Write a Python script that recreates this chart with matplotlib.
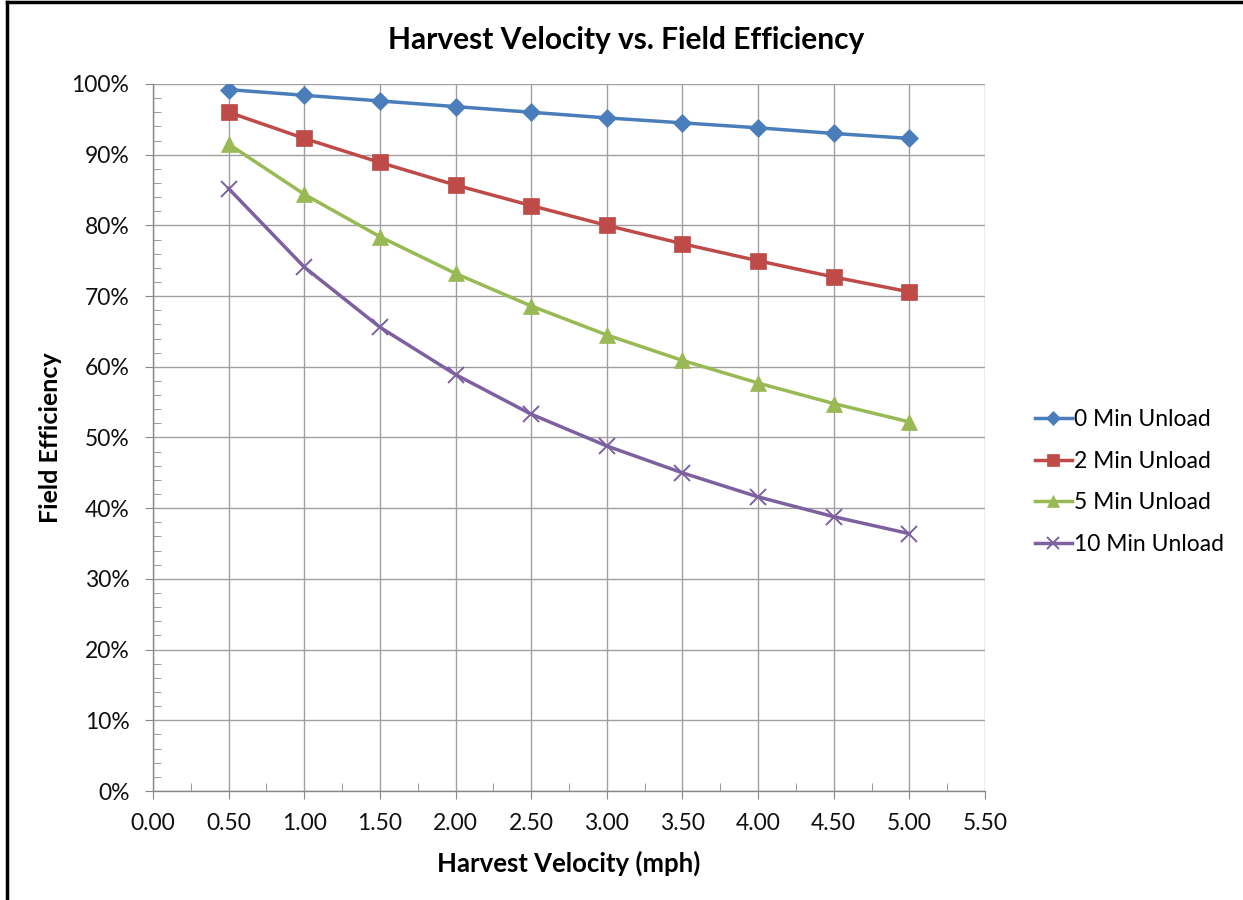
import matplotlib
matplotlib.use("Agg")
import matplotlib.pyplot as plt
from matplotlib.ticker import MultipleLocator, PercentFormatter
from matplotlib.lines import Line2D

plt.rcParams['font.family'] = ['Lato', 'DejaVu Sans']

# harvest velocity (mph)
velocity = [0.5, 1.0, 1.5, 2.0, 2.5, 3.0, 3.5, 4.0, 4.5, 5.0]

# field efficiency (%) for each unload time
unload_0 = [99.2, 98.4, 97.6, 96.8, 96.0, 95.2, 94.5, 93.8, 93.0, 92.3]
unload_2 = [96.0, 92.3, 88.9, 85.7, 82.8, 80.0, 77.4, 75.0, 72.7, 70.6]
unload_5 = [91.5, 84.4, 78.4, 73.2, 68.6, 64.5, 60.9, 57.7, 54.8, 52.2]
unload_10 = [85.2, 74.1, 65.6, 58.9, 53.3, 48.8, 45.0, 41.6, 38.8, 36.4]

labels = ['0 Min Unload', '2 Min Unload', '5 Min Unload', '10 Min Unload']
colors = ['#4A7EBB', '#BE4B48', '#98B954', '#7D60A0']
markers = ['D', 's', '^', 'x']
msizes = [9, 11, 11, 11.5]

fig = plt.figure(figsize=(12.43, 9), dpi=100)
ax = fig.add_axes([0.1231, 0.1211, 0.6693, 0.7856])

for ys, lab, c, m, ms in zip([unload_0, unload_2, unload_5, unload_10],
                             labels, colors, markers, msizes):
    ax.plot(velocity, ys, color=c, lw=2.5, marker=m, markersize=ms,
            markeredgewidth=1.4 if m == 'x' else 0.5, markeredgecolor=c,
            label=lab, zorder=3)

ax.set_xlim(0, 5.5)
ax.set_ylim(0, 100)
ax.xaxis.set_major_locator(MultipleLocator(0.5))
ax.xaxis.set_minor_locator(MultipleLocator(0.25))
ax.yaxis.set_major_locator(MultipleLocator(10))
ax.yaxis.set_minor_locator(MultipleLocator(2))
ax.yaxis.set_major_formatter(PercentFormatter(decimals=0))
ax.xaxis.set_major_formatter(lambda v, p: f'{v:.2f}')

ax.grid(True, which='major', color='#A0A0A0', lw=1.0)
for s in ['top', 'right']:
    ax.spines[s].set_visible(False)
for s in ['left', 'bottom']:
    ax.spines[s].set_color('#888888')
    ax.spines[s].set_linewidth(1.0)

ax.tick_params(which='major', direction='out', length=6, color='#888888',
               labelsize=16.5, labelcolor='#111111')
ax.tick_params(axis='y', which='major', pad=11)
ax.tick_params(axis='x', which='major', pad=10)
ax.tick_params(which='minor', direction='in', length=6, color='#888888')

ax.set_xlabel('Harvest Velocity (mph)', fontsize=18.5, fontweight='bold', labelpad=12)
ax.set_ylabel('Field Efficiency', fontsize=18, fontweight='bold', labelpad=7)
fig.text(0.504, 0.955, 'Harvest Velocity vs. Field Efficiency', ha='center', va='center',
         fontsize=21.5, fontweight='bold')

ax.legend(loc='center left', bbox_to_anchor=(1.06, 0.437), frameon=False,
          borderaxespad=0, borderpad=0,
          fontsize=16.5, handlelength=1.6, handletextpad=0.12, labelspacing=0.9,
          markerscale=0.75)

# chart border (only top and left visible in the reference crop)
fig.add_artist(Line2D([0.0055, 1.0], [0.9975, 0.9975], color='black', lw=2.5,
                      transform=fig.transFigure))
fig.add_artist(Line2D([0.0055, 0.0055], [0.0, 0.9975], color='black', lw=2.5,
                      transform=fig.transFigure))

fig.savefig('out.png', dpi=100)
